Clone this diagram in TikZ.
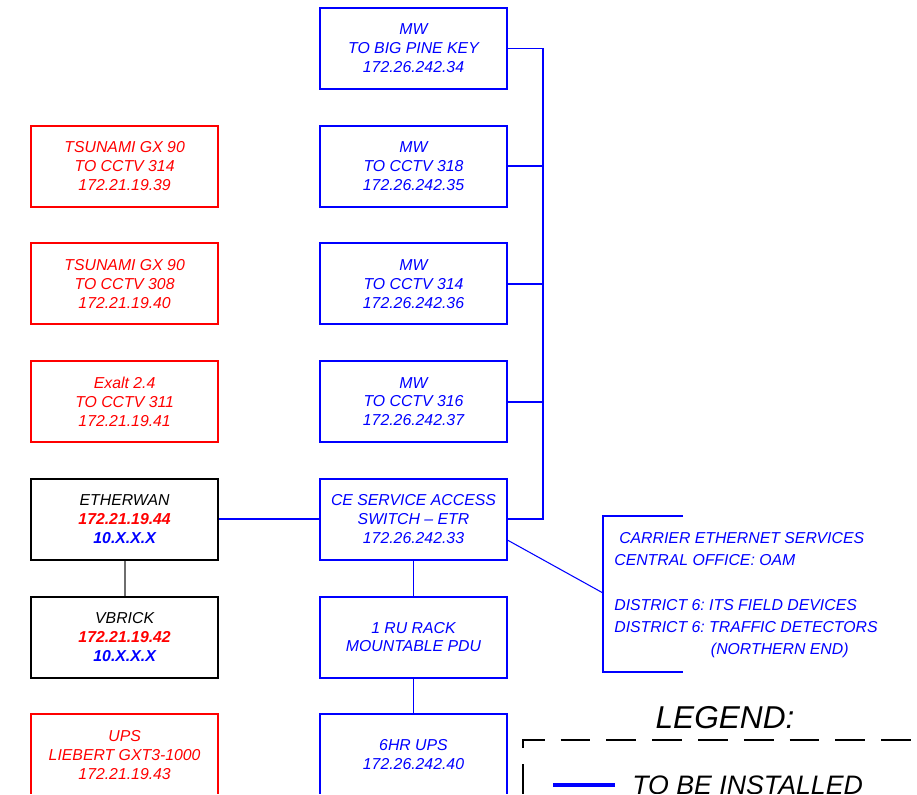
\documentclass[tikz,border=0pt]{standalone}
\usepackage{fontspec}
\setmainfont{Liberation Sans}
\usepackage{tikz}
\usetikzlibrary{positioning}

\definecolor{planblue}{RGB}{0,0,255}
\definecolor{planred}{RGB}{255,0,0}
\definecolor{plangray}{RGB}{110,110,110}

\begin{document}
\begin{tikzpicture}[x=0.02cm, y=-0.02cm, node distance=0.696cm and 2.0cm,
    every node/.style={font=\fontsize{9}{10.8}\selectfont\itshape\frenchspacing},
    unit/.style={draw, rectangle, line width=1.1pt, minimum width=3.74cm, minimum height=1.62cm, align=center},
    bluebox/.style={unit, draw=planblue, text=planblue},
    redbox/.style={unit, draw=planred, text=planred},
    blackbox/.style={unit, draw=black, text=black},
    link/.style={planblue, line width=1.1pt},
    note/.style={planblue, line width=0.6pt}]
    \useasboundingbox (0,0) rectangle (917,795);
    \clip (0,0) rectangle (917,793.6);

    % center column
    \node (mw1) [bluebox] at (413.5,48.5) {MW\\TO BIG PINE KEY\\172.26.242.34};
    \node (mw2) [bluebox, below=of mw1] {MW\\TO CCTV 318\\172.26.242.35};
    \node (mw3) [bluebox, below=of mw2] {MW\\TO CCTV 314\\172.26.242.36};
    \node (mw4) [bluebox, below=of mw3] {MW\\TO CCTV 316\\172.26.242.37};
    \node (ceswitch) [bluebox, below=of mw4] {CE SERVICE ACCESS\\SWITCH -- ETR\\172.26.242.33};
    \node (pdu) [bluebox, below=of ceswitch] {1 RU RACK\\MOUNTABLE PDU};
    \node (ups) [bluebox, below=of pdu] {6HR UPS\\172.26.242.40};

    % left column
    \node (tsunami1) [redbox, left=of mw2] {TSUNAMI GX 90\\TO CCTV 314\\172.21.19.39};
    \node (tsunami2) [redbox, left=of mw3] {TSUNAMI GX 90\\TO CCTV 308\\172.21.19.40};
    \node (exalt) [redbox, left=of mw4] {Exalt 2.4\\TO CCTV 311\\172.21.19.41};
    \node (etherwan) [blackbox, left=of ceswitch] {ETHERWAN\\{\bfseries\color{planred}172.21.19.44}\\{\bfseries\color{planblue}10.X.X.X}};
    \node (vbrick) [blackbox, left=of pdu] {VBRICK\\{\bfseries\color{planred}172.21.19.42}\\{\bfseries\color{planblue}10.X.X.X}};
    \node (upsleft) [redbox, left=of ups] {UPS\\LIEBERT GXT3-1000\\172.21.19.43};

    % bus on the right
    \coordinate (bustop) at (543,48.5);
    \draw[link] (mw1.east) -- (bustop) |- (ceswitch.east);
    \draw[link] (mw2.east) -- (mw2.east -| bustop);
    \draw[link] (mw3.east) -- (mw3.east -| bustop);
    \draw[link] (mw4.east) -- (mw4.east -| bustop);

    \draw[link] (etherwan) -- (ceswitch);
    \draw[plangray, line width=1.1pt] (etherwan) -- (vbrick);
    \draw[link] (ceswitch) -- (pdu);
    \draw[link] (pdu) -- (ups);

    % carrier note
    \coordinate (notetop) at (683,516);
    \coordinate (notebot) at (683,672);
    \coordinate (notetip) at (603,593);
    \draw[note] (notetop) -- (603,516) -- (603,672) -- (notebot);
    \draw[note] ([yshift=-0.42cm]ceswitch.east) -- (notetip);
    \node (carrier) [text=planblue, anchor=north west, inner sep=0pt, align=left,
        font=\fontsize{9}{12.7}\selectfont\itshape\frenchspacing] at (614,532)
        {\hspace*{2.8pt}CARRIER ETHERNET SERVICES\\
         CENTRAL OFFICE: OAM\\[12.7pt]
         DISTRICT 6: ITS FIELD DEVICES\\
         DISTRICT 6: TRAFFIC DETECTORS\\
         \hspace*{55pt}(NORTHERN END)};

    % legend
    \node (legend) [font=\fontsize{18}{20}\selectfont\itshape] at (725,718) {LEGEND:};
    \draw[black, line width=0.9pt, dash pattern=on 17pt off 9.07pt]
        (523,794) -- (523,740) -- (917,740);
    \coordinate (keyleft) at (553,785);
    \coordinate (keyright) at (615,785);
    \draw[planblue, line width=1.8pt] (keyleft) -- (keyright);
    \node (keytext) [anchor=west, inner sep=0pt, font=\fontsize{15.2}{17}\selectfont\itshape] at (632,785) {TO BE INSTALLED};
\end{tikzpicture}
\end{document}
